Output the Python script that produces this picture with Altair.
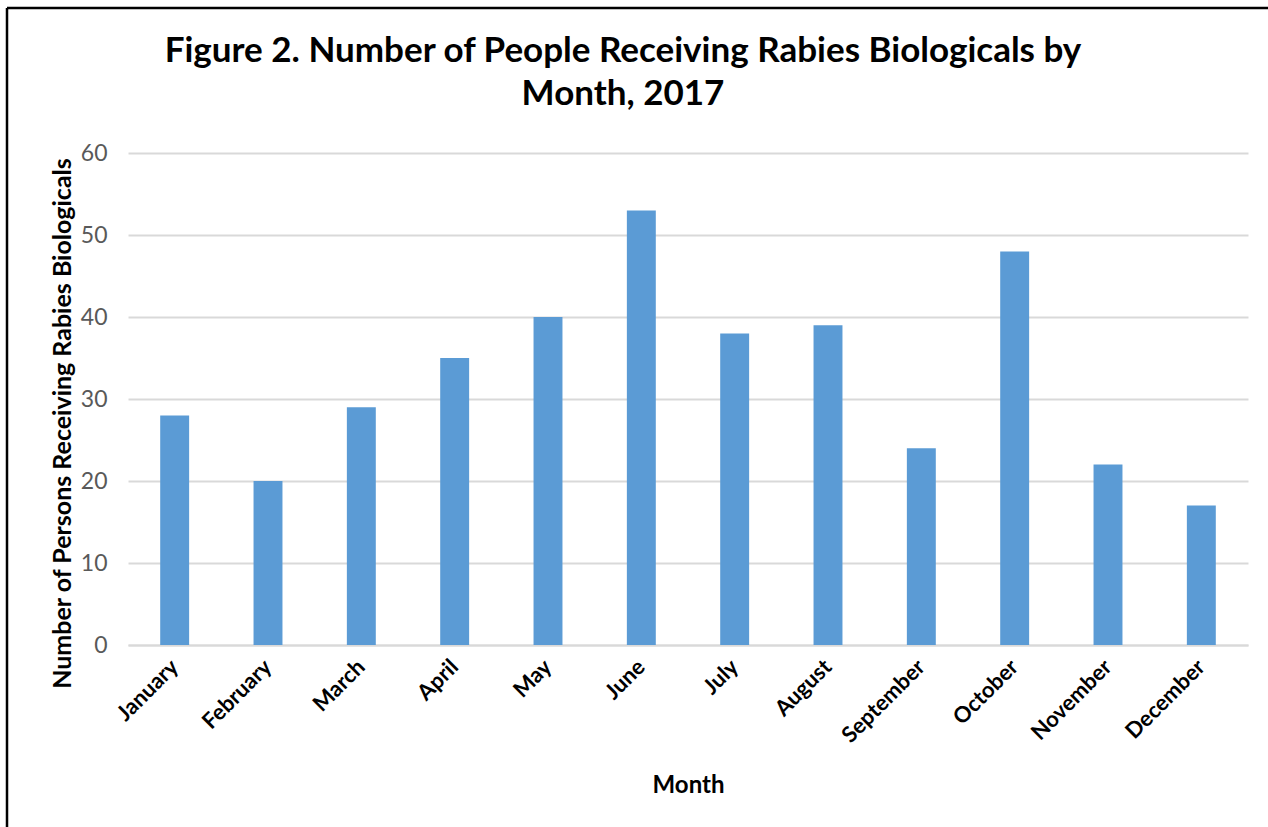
import altair as alt
import pandas as pd

months = ["January", "February", "March", "April", "May", "June",
          "July", "August", "September", "October", "November", "December"]
persons = [28, 20, 29, 35, 40, 53, 38, 39, 24, 48, 22, 17]

df = pd.DataFrame({"Month": months, "Persons": persons})

FONT = "Lato"
W, H = 1120, 492
PAD = {"left": 128, "top": 153, "right": 20, "bottom": 182}

bars = alt.Chart(df).mark_bar(color="#5B9BD5").encode(
    x=alt.X(
        "Month:N",
        sort=months,
        scale=alt.Scale(paddingInner=0.69, paddingOuter=0.345),
        axis=alt.Axis(
            title="Month",
            labelAngle=-45,
            labelAlign="right",
            labelBaseline="middle",
            labelFont=FONT,
            labelFontWeight="bold",
            labelFontSize=22,
            labelColor="#000000",
            labelPadding=18,
            ticks=False,
            domainColor="#D9D9D9",
            domainWidth=2,
            titleFont=FONT,
            titleFontSize=24,
            titleFontWeight="bold",
            titleColor="#000000",
            titleY=140,
            titleBaseline="middle",
        ),
    ),
    y=alt.Y(
        "Persons:Q",
        scale=alt.Scale(domain=[0, 60]),
        axis=alt.Axis(
            title="Number of Persons Receiving Rabies Biologicals",
            values=[0, 10, 20, 30, 40, 50, 60],
            labelFont=FONT,
            labelFontSize=23,
            labelColor="#595959",
            labelPadding=21,
            ticks=False,
            domain=False,
            gridColor="#D9D9D9",
            gridWidth=2,
            titleFont=FONT,
            titleFontSize=25,
            titleFontWeight="bold",
            titleColor="#000000",
            titleAngle=-90,
            titleX=-66,
            titleY=270,
            titleAlign="center",
            titleBaseline="middle",
        ),
    ),
)

# Black frame along the left and top edges of the figure
left_edge = alt.Chart(df.head(1)).mark_rule(color="#000000", strokeWidth=2.5).encode(
    x=alt.value(-121), y=alt.value(-145), y2=alt.value(H + PAD["bottom"])
)
top_edge = alt.Chart(df.head(1)).mark_rule(color="#000000", strokeWidth=2.5).encode(
    x=alt.value(-121), x2=alt.value(W + PAD["right"]), y=alt.value(-145)
)

chart = alt.layer(bars, left_edge, top_edge).properties(
    width=W,
    height=H,
    padding=PAD,
    background="#FFFFFF",
    autosize=alt.AutoSizeParams(type="none"),
    title=alt.TitleParams(
        text=["Figure 2. Number of People Receiving Rabies Biologicals by", "Month, 2017"],
        font=FONT,
        fontSize=35,
        fontWeight="bold",
        color="#000000",
        anchor="middle",
        frame="group",
        dx=-65,
        dy=105,
        offset=0,
        lineHeight=43,
    ),
).configure_view(stroke=None)

chart.save("out.html", embed_options={"renderer": "svg", "actions": False})
